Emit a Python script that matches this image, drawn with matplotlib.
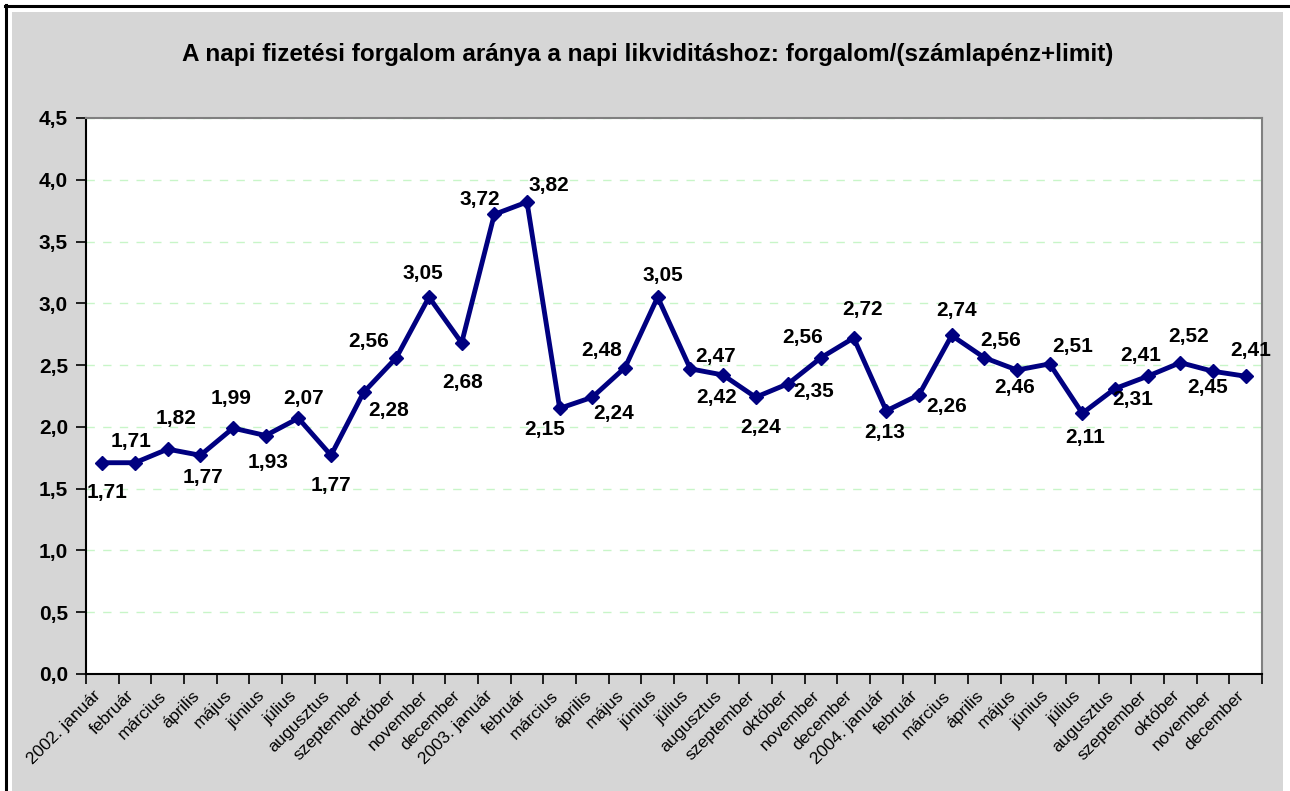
import matplotlib
matplotlib.use("Agg")
import matplotlib.pyplot as plt
import numpy as np
from matplotlib.patches import Rectangle
from matplotlib.lines import Line2D
from matplotlib.ticker import FixedLocator, FuncFormatter
from matplotlib.transforms import ScaledTranslation

plt.rcParams['font.family'] = ['Liberation Sans', 'DejaVu Sans']

title = "A napi fizetési forgalom aránya a napi likviditáshoz: forgalom/(számlapénz+limit)"

months = ["2002. január", "február", "március", "április", "május", "június",
          "július", "augusztus", "szeptember", "október", "november", "december",
          "2003. január", "február", "március", "április", "május", "június",
          "július", "augusztus", "szeptember", "október", "november", "december",
          "2004. január", "február", "március", "április", "május", "június",
          "július", "augusztus", "szeptember", "október", "november", "december"]

values = [1.71, 1.71, 1.82, 1.77, 1.99, 1.93, 2.07, 1.77, 2.28, 2.56, 3.05, 2.68,
          3.72, 3.82, 2.15, 2.24, 2.48, 3.05, 2.47, 2.42, 2.24, 2.35, 2.56, 2.72,
          2.13, 2.26, 2.74, 2.56, 2.46, 2.51, 2.11, 2.31, 2.41, 2.52, 2.45, 2.41]

# label offsets in pixels (dx, dy up-positive)
label_offsets = [(5, -30), (-4, 21), (8, 31), (3, -22), (-2, 30), (2, -27),
                 (5, 20), (0, -30), (25, -18), (-28, 16), (-6, 24), (1, -40),
                 (-15, 15), (22, 17), (-15, -21), (21, -16), (-23, 17), (5, 22),
                 (25, 12), (-6, -23), (5, -30), (25, -8), (-18, 20), (9, 28),
                 (-2, -22), (28, -12), (5, 25), (16, 17), (-2, -17), (23, 17),
                 (3, -24), (18, -11), (-7, 21), (8, 26), (-5, -16), (5, 26)]

W, H = 1290, 791
fig = plt.figure(figsize=(W / 100, H / 100), dpi=100, facecolor='white')

# grey background panel
bg = Rectangle((12 / W, 0), (1283 - 12) / W, (H - 12) / H,
               transform=fig.transFigure, facecolor='#d6d6d6',
               edgecolor='none', zorder=-10)
fig.add_artist(bg)
# black frame lines (top and left)
fig.add_artist(Line2D([5 / W, 1], [1 - 6 / H, 1 - 6 / H], transform=fig.transFigure,
                      color='black', lw=2.2, zorder=-5))
fig.add_artist(Line2D([6 / W, 6 / W], [0, 1 - 5 / H], transform=fig.transFigure,
                      color='black', lw=2.2, zorder=-5))

L, R, T, B = 86, 1262, 118, 674
ax = fig.add_axes([L / W, 1 - B / H, (R - L) / W, (B - T) / H])
ax.set_zorder(1)
ax.set_facecolor('white')

x = np.arange(len(values))
ax.plot(x, values, color='#000080', lw=3.5, marker='D', markersize=7.5,
        markerfacecolor='#000080', markeredgecolor='#000080', zorder=3, clip_on=False)

for xi, v, (dx, dy) in zip(x, values, label_offsets):
    ax.annotate(f"{v:.2f}".replace('.', ','), (xi, v), xytext=(dx, dy),
                textcoords='offset pixels', ha='center', va='center',
                fontsize=15, fontweight='bold', color='black', zorder=4)

ax.set_xlim(-0.5, len(values) - 0.5)
ax.set_ylim(0, 4.5)

ax.yaxis.set_major_locator(FixedLocator(np.arange(0, 4.51, 0.5)))
ax.yaxis.set_major_formatter(FuncFormatter(lambda v, p: f"{v:.1f}".replace('.', ',')))
ax.tick_params(axis='y', direction='out', length=7, width=1.2, pad=6,
               labelsize=15)
for lab in ax.get_yticklabels():
    lab.set_fontweight('bold')

ax.set_xticks(x)
ax.set_xticklabels(months, rotation=45, ha='right', va='top',
                   rotation_mode='anchor', fontsize=12.5)
ax.tick_params(axis='x', which='major', length=0, pad=10)
shift = ScaledTranslation(-9 / 100, 0, fig.dpi_scale_trans)
for lab in ax.get_xticklabels():
    lab.set_transform(lab.get_transform() + shift)
ax.set_xticks(np.arange(-0.5, len(values), 1.0), minor=True)
ax.tick_params(axis='x', which='minor', direction='out', length=7, width=1.2)

ax.grid(axis='y', color='#c8f5c8', linestyle=(0, (6, 6)), lw=1.0, zorder=1)
ax.set_axisbelow(True)

for side in ['top', 'right']:
    ax.spines[side].set_color('#808080')
    ax.spines[side].set_linewidth(1.5)
for side in ['left', 'bottom']:
    ax.spines[side].set_color('black')
    ax.spines[side].set_linewidth(1.5)

fig.text(648 / W, 1 - 54 / H, title, ha='center', va='center',
         fontsize=17.5, fontweight='bold', zorder=2)

fig.savefig("out.png", dpi=100, facecolor=fig.get_facecolor())
